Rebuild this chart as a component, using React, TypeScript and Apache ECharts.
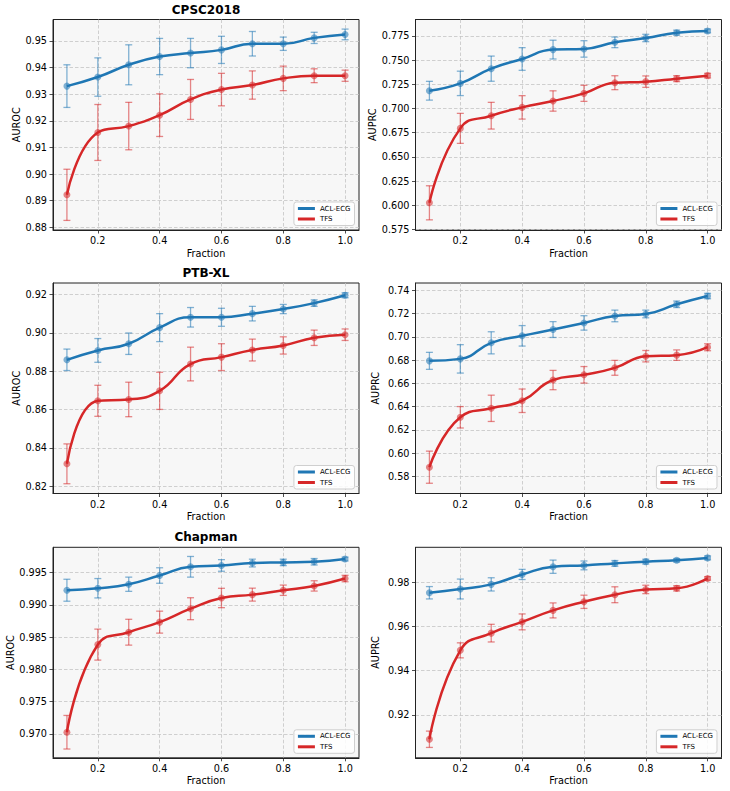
import { useEffect, useRef } from 'react';
import * as echarts from 'echarts';

// ---------------- data ----------------
const fractions = [0.1, 0.2, 0.3, 0.4, 0.5, 0.6, 0.7, 0.8, 0.9, 1.0];
const xTicks = [0.2, 0.4, 0.6, 0.8, 1.0];

const cpscAurocAcl = [0.933, 0.9364, 0.941, 0.9441, 0.9454, 0.9466, 0.9489, 0.9489, 0.9511, 0.9524];
const cpscAurocAclErr = [0.008, 0.0072, 0.0075, 0.0068, 0.0055, 0.0051, 0.0046, 0.0025, 0.0021, 0.002];
const cpscAurocTfs = [0.8922, 0.9156, 0.918, 0.9221, 0.928, 0.9317, 0.9334, 0.9359, 0.9369, 0.9369];
const cpscAurocTfsErr = [0.0096, 0.0105, 0.0089, 0.008, 0.0075, 0.0061, 0.0053, 0.0046, 0.0026, 0.0021];
const cpscAurocTicks = [0.88, 0.89, 0.9, 0.91, 0.92, 0.93, 0.94, 0.95];

const cpscAuprcAcl = [0.7184, 0.726, 0.7412, 0.7512, 0.7609, 0.7616, 0.7684, 0.7729, 0.7784, 0.7802];
const cpscAuprcAclErr = [0.0097, 0.0126, 0.013, 0.0117, 0.0097, 0.0085, 0.0055, 0.0038, 0.0026, 0.002];
const cpscAuprcTfs = [0.6026, 0.6795, 0.6926, 0.7012, 0.7078, 0.7157, 0.7267, 0.7278, 0.7309, 0.734];
const cpscAuprcTfsErr = [0.0176, 0.0155, 0.0138, 0.0121, 0.0105, 0.0083, 0.0072, 0.0059, 0.0031, 0.0024];
const cpscAuprcTicks = [0.575, 0.6, 0.625, 0.65, 0.675, 0.7, 0.725, 0.75, 0.775];

const ptbAurocAcl = [0.886, 0.8909, 0.8944, 0.9028, 0.9082, 0.9082, 0.9101, 0.9125, 0.9156, 0.9197];
const ptbAurocAclErr = [0.0056, 0.0062, 0.0056, 0.0073, 0.0051, 0.0047, 0.0038, 0.0024, 0.0017, 0.0013];
const ptbAurocTfs = [0.8317, 0.8646, 0.8653, 0.8698, 0.8838, 0.8874, 0.8911, 0.8935, 0.8975, 0.8991];
const ptbAurocTfsErr = [0.0104, 0.0081, 0.009, 0.0097, 0.0088, 0.007, 0.0057, 0.0045, 0.004, 0.003];
const ptbAurocTicks = [0.82, 0.84, 0.86, 0.88, 0.9, 0.92];

const ptbAuprcAcl = [0.6794, 0.6811, 0.6949, 0.7009, 0.7063, 0.712, 0.718, 0.7197, 0.728, 0.7351];
const ptbAuprcAclErr = [0.0073, 0.0122, 0.0095, 0.0088, 0.0068, 0.0062, 0.005, 0.0033, 0.0028, 0.0023];
const ptbAuprcTfs = [0.588, 0.6309, 0.6386, 0.6451, 0.6629, 0.6674, 0.6734, 0.6834, 0.6843, 0.6911];
const ptbAuprcTfsErr = [0.0138, 0.0092, 0.0113, 0.0101, 0.0083, 0.0071, 0.0064, 0.0049, 0.0045, 0.003];
const ptbAuprcTicks = [0.58, 0.6, 0.62, 0.64, 0.66, 0.68, 0.7, 0.72, 0.74];

const chapAurocAcl = [0.99225, 0.99256, 0.99318, 0.99453, 0.99588, 0.99609, 0.99646, 0.99656, 0.99666, 0.99708];
const chapAurocAclErr = [0.0017, 0.0015, 0.0011, 0.0012, 0.0016, 0.0009, 0.0006, 0.0005, 0.0005, 0.0003];
const chapAurocTfs = [0.97026, 0.98383, 0.98575, 0.98731, 0.98939, 0.99105, 0.99157, 0.99225, 0.99292, 0.99406];
const chapAurocTfsErr = [0.0026, 0.0024, 0.002, 0.0017, 0.0017, 0.0015, 0.001, 0.0008, 0.0008, 0.0005];
const chapAurocTicks = [0.97, 0.975, 0.98, 0.985, 0.99, 0.995];

const chapAuprcAcl = [0.9753, 0.977, 0.9791, 0.9836, 0.9871, 0.9877, 0.9886, 0.9894, 0.99, 0.9911];
const chapAuprcAclErr = [0.0028, 0.0045, 0.003, 0.0023, 0.003, 0.002, 0.0013, 0.0011, 0.0008, 0.0009];
const chapAuprcTfs = [0.9089, 0.9492, 0.957, 0.9621, 0.9673, 0.9712, 0.9744, 0.9768, 0.9773, 0.9818];
const chapAuprcTfsErr = [0.0037, 0.0034, 0.004, 0.0036, 0.0034, 0.003, 0.0036, 0.0019, 0.0012, 0.0008];
const chapAuprcTicks = [0.92, 0.94, 0.96, 0.98];

const seriesNames = ['ACL-ECG', 'TFS'];
const datasetTitles = ['CPSC2018', 'PTB-XL', 'Chapman'];

// ---------------- style / layout ----------------
const FONT = 'DejaVu Sans';
const BLUE = '#1f77b4';
const RED = '#d62728';
const BLUE_A = 'rgba(31,119,180,0.55)';
const RED_A = 'rgba(214,39,40,0.55)';
const W = 730;
const H = 791;
const colLeft = [53, 415.5];
const rowTop = [19.5, 283, 547.3];
const GW = 306;
const GH = 210.5;

const panels = [
  { row: 0, col: 0, title: datasetTitles[0], yName: 'AUROC', yMin: 0.879, yMax: 0.958, ticks: cpscAurocTicks, dec: 2, acl: cpscAurocAcl, aclErr: cpscAurocAclErr, tfs: cpscAurocTfs, tfsErr: cpscAurocTfsErr },
  { row: 0, col: 1, title: '', yName: 'AUPRC', yMin: 0.5745, yMax: 0.792, ticks: cpscAuprcTicks, dec: 3, acl: cpscAuprcAcl, aclErr: cpscAuprcAclErr, tfs: cpscAuprcTfs, tfsErr: cpscAuprcTfsErr },
  { row: 1, col: 0, title: datasetTitles[1], yName: 'AUROC', yMin: 0.8162, yMax: 0.9261, ticks: ptbAurocTicks, dec: 2, acl: ptbAurocAcl, aclErr: ptbAurocAclErr, tfs: ptbAurocTfs, tfsErr: ptbAurocTfsErr },
  { row: 1, col: 1, title: '', yName: 'AUPRC', yMin: 0.5654, yMax: 0.7463, ticks: ptbAuprcTicks, dec: 2, acl: ptbAuprcAcl, aclErr: ptbAuprcAclErr, tfs: ptbAuprcTfs, tfsErr: ptbAuprcTfsErr },
  { row: 2, col: 0, title: datasetTitles[2], yName: 'AUROC', yMin: 0.9663, yMax: 0.9989, ticks: chapAurocTicks, dec: 3, acl: chapAurocAcl, aclErr: chapAurocAclErr, tfs: chapAurocTfs, tfsErr: chapAurocTfsErr },
  { row: 2, col: 1, title: '', yName: 'AUPRC', yMin: 0.9005, yMax: 0.9959, ticks: chapAuprcTicks, dec: 2, acl: chapAuprcAcl, aclErr: chapAuprcAclErr, tfs: chapAuprcTfs, tfsErr: chapAuprcTfsErr },
];

function errSeries(i: number, vals: number[], errs: number[], color: string) {
  return {
    type: 'custom',
    name: 'err' + i + color,
    xAxisIndex: i,
    yAxisIndex: i,
    silent: true,
    z: 2,
    data: fractions.map((f, k) => [f, vals[k] - errs[k], vals[k] + errs[k]]),
    encode: { x: 0, y: [1, 2] },
    renderItem: (_params: any, api: any) => {
      const x = api.value(0);
      const lo = api.value(1);
      const hi = api.value(2);
      const a = api.coord([x, hi]);
      const b = api.coord([x, lo]);
      const c = 3.5;
      const style = { stroke: color, lineWidth: 1.3, fill: 'none' };
      return {
        type: 'group',
        children: [
          { type: 'line', shape: { x1: a[0], y1: a[1], x2: b[0], y2: b[1] }, style },
          { type: 'line', shape: { x1: a[0] - c, y1: a[1], x2: a[0] + c, y2: a[1] }, style },
          { type: 'line', shape: { x1: b[0] - c, y1: b[1], x2: b[0] + c, y2: b[1] }, style },
        ],
      };
    },
  };
}

function buildOption() {
  const grid: any[] = [];
  const xAxis: any[] = [];
  const yAxis: any[] = [];
  const series: any[] = [];
  const legend: any[] = [];
  const title: any[] = [];

  panels.forEach((p, i) => {
    const left = colLeft[p.col];
    const top = rowTop[p.row];
    grid.push({
      left, top, width: GW, height: GH,
      show: true, backgroundColor: '#f7f7f7', borderColor: '#222', borderWidth: 1,
      containLabel: false, outerBoundsMode: 'none',
    });
    xAxis.push({
      type: 'value', gridIndex: i, min: 0.055, max: 1.045,
      name: 'Fraction', nameLocation: 'middle', nameGap: 18,
      nameTextStyle: { fontSize: 9.7, color: '#000', fontFamily: FONT },
      axisLine: { show: true, onZero: false, lineStyle: { color: '#222', width: 1 } },
      axisTick: { show: true, customValues: xTicks, length: 3.5, lineStyle: { color: '#222', width: 0.8 } },
      axisLabel: { customValues: xTicks, formatter: (v: number) => v.toFixed(1), fontSize: 9.7, color: '#000', fontFamily: FONT, margin: 5.5 },
      splitLine: { show: true, lineStyle: { type: [3.5, 2], color: '#c4c4c4', width: 0.8 } },
    });
    yAxis.push({
      type: 'value', gridIndex: i, min: p.yMin, max: p.yMax,
      name: p.yName, nameLocation: 'middle', nameRotate: 90, nameGap: p.col === 0 ? 28 : 35,
      nameTextStyle: { fontSize: 9.7, color: '#000', fontFamily: FONT },
      axisLine: { show: true, onZero: false, lineStyle: { color: '#222', width: 1 } },
      axisTick: { show: true, customValues: p.ticks, length: 3.5, lineStyle: { color: '#222', width: 0.8 } },
      axisLabel: { customValues: p.ticks, formatter: (v: number) => v.toFixed(p.dec), fontSize: 9.7, color: '#000', fontFamily: FONT, margin: 6 },
      splitLine: { show: true, lineStyle: { type: [3.5, 2], color: '#c4c4c4', width: 0.8 } },
    });

    series.push(errSeries(i, p.acl, p.aclErr, BLUE_A));
    series.push(errSeries(i, p.tfs, p.tfsErr, RED_A));

    [
      { name: seriesNames[0], vals: p.acl, color: BLUE },
      { name: seriesNames[1], vals: p.tfs, color: RED },
    ].forEach((s) => {
      const pts = fractions.map((f, k) => [f, s.vals[k]]);
      series.push({
        type: 'line', name: s.name, xAxisIndex: i, yAxisIndex: i,
        data: pts, smooth: 0.5, symbol: 'none', z: 3,
        lineStyle: { width: 2.5, color: s.color }, itemStyle: { color: s.color },
      });
      series.push({
        type: 'scatter', name: s.name + ' pts', xAxisIndex: i, yAxisIndex: i,
        data: pts, symbolSize: 7, z: 4, silent: true,
        itemStyle: { color: s.color, opacity: 0.55 },
      });
    });

    legend.push({
      data: seriesNames, orient: 'vertical',
      right: W - (left + GW) + 4.5, bottom: H - (top + GH) + 4.5,
      icon: 'rect', itemWidth: 17, itemHeight: 3, itemGap: 3.5,
      textStyle: { fontSize: 7, color: '#000', fontFamily: FONT },
      backgroundColor: 'rgba(255,255,255,0.85)', borderColor: '#cfcfcf', borderWidth: 1, borderRadius: 2.5,
      padding: [3, 4, 3, 4], selectedMode: false,
    });

    if (p.title) {
      title.push({
        text: p.title, left: left + GW / 2, top: top - 16, textAlign: 'center',
        textStyle: { fontSize: 12, fontWeight: 'bold', color: '#000', fontFamily: FONT },
        padding: 0,
      });
    }
  });

  return {
    animation: false,
    backgroundColor: '#ffffff',
    textStyle: { fontFamily: FONT },
    title, grid, xAxis, yAxis, series, legend,
  };
}

export default function App() {
  const ref = useRef<HTMLDivElement>(null);
  useEffect(() => {
    if (!ref.current) return;
    const chart = echarts.init(ref.current, null, { renderer: 'svg' });
    chart.setOption(buildOption() as any);
    return () => chart.dispose();
  }, []);
  return (
    <div
      ref={ref}
      style={{ position: 'absolute', left: 0, top: 0, width: W, height: H, background: '#fff' }}
    />
  );
}
